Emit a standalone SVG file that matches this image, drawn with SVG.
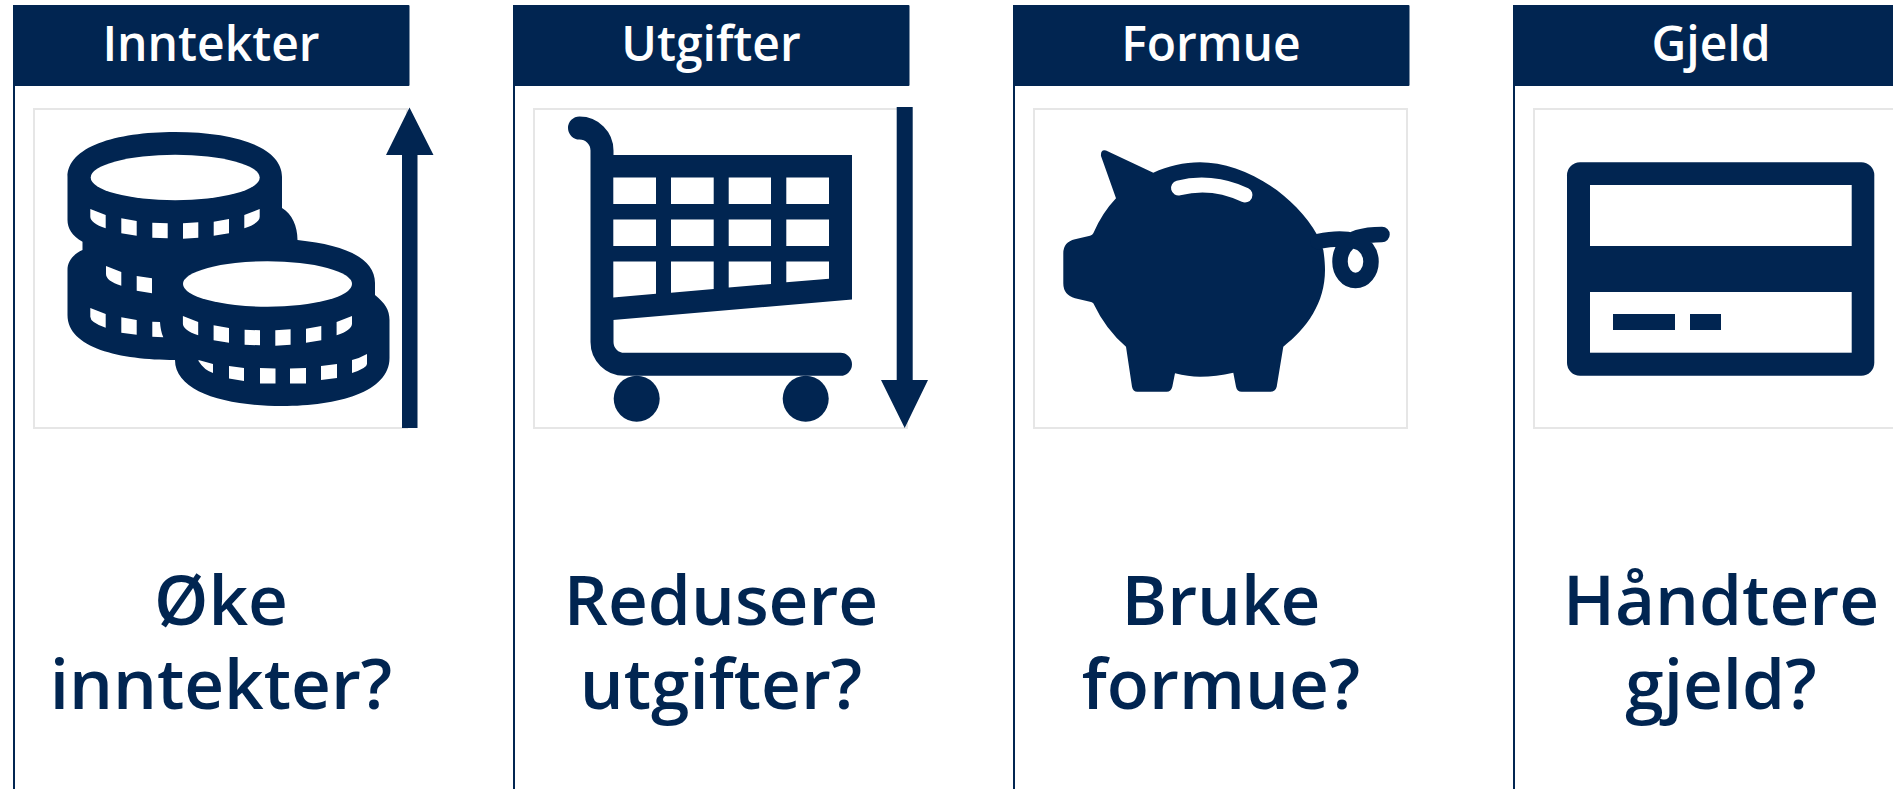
<svg xmlns="http://www.w3.org/2000/svg" width="1893" height="789" viewBox="0 0 1893 789">
<style>
.n{fill:#012551}
.w{fill:#fff}
.hd{fill:#012551}
.rule{fill:#012551}
.box{fill:#fff;stroke:#e6e6e6;stroke-width:2}
.h{font-family:"Open Sans",sans-serif;font-size:48px;font-weight:600;fill:#fff;text-anchor:middle}
.q{font-family:"Open Sans",sans-serif;font-size:69.2px;font-weight:600;fill:#012551;text-anchor:middle}
</style>
<defs>
<g id="col">
<rect class="rule" x="13" y="5" width="2" height="784"/>
<rect class="hd" x="13" y="5" width="396.5" height="81" rx="1"/>
<rect class="box" x="34" y="109" width="373" height="319"/>
</g>
</defs>
<rect width="1893" height="789" fill="#fff"/>
<g id="inntekter">
<use href="#col"/>
<text class="h" x="211" y="61">Inntekter</text>
<path class="n" d="M67.500 177C67.500 147 115 132 175 132C235 132 282 147 282 177V208C292 214 297.500 226 297.500 240C345 245 375 258 375 283V295C385 303 389.500 310 389.500 320V358C389.500 392 338 406 282 406C226 406 175 392 175 360C120 360 67.500 348 67.500 315V270C67.500 262 72 255 82.500 250V241.700C72 236 67.500 228 67.500 220Z"/>
<ellipse class="w" cx="175.200" cy="177.500" rx="84.500" ry="22.700"/>
<ellipse class="w" cx="267.500" cy="284" rx="84.500" ry="22.700"/>
<path class="w" d="M90.300 209L105.700 215V228.300Q90.300 223 90.300 216.700ZM121.300 218.300L136.700 221V235.700L121.300 233.300ZM152.300 222.700L167.700 223.300V238.300L152.300 237.700ZM183 223.300L198.300 222.300V237.700L183 238.700ZM213.700 221.700L229 219V233.300L213.700 235.700ZM244.300 215L259.700 209V216.700Q259.700 223 244.300 228.300Z"/>
<path class="w" d="M106 266L121.300 272V285.700Q106 281 106 274ZM136.700 276L152 278.300V293.300L136.700 290.700Z"/>
<path class="w" d="M90.300 308L105.700 314V327.700Q90.300 322.500 90.300 316.700ZM121.300 317.300L136.700 320V334.700L121.300 332.700ZM152.300 321.700L160 322Q160.500 331 163.300 337.300L152.300 336.700Z"/>
<path class="w" d="M182.900 316L198.200 322V335.300Q182.900 330 182.900 323.700ZM213.600 325.300L229 328V342.700L213.600 340.300ZM244.600 329.700L260 330.300V345.300L244.600 344.700ZM275.300 330.300L290.600 329.300V344.700L275.300 345.700ZM306 328.700L321.300 326V340.300L306 342.700ZM336.600 322L352 316V323.700Q352 330 336.600 335.300Z"/>
<path class="w" d="M198.500 360L213 364V373Q204 370 198.500 361ZM229 366L244 368V381L229 378.500ZM260 368L275.500 368.500V383.500H260ZM290 368.500L306 368V383.500H290ZM321 366L337 364V378L321 380ZM352 360Q360 358 367 354V364Q367 368 352 373Z"/>
<path class="n" d="M402 428V155H386L409.500 107.500L433.500 155H417.500V428Z"/>
<text class="q" x="221" y="625">Øke</text>
<text class="q" x="221" y="709">inntekter?</text>
</g>
<g id="utgifter" transform="translate(500 0)">
<use href="#col"/>
<text class="h" x="211" y="61">Utgifter</text>
<path d="M79.500 128A22.500 22.500 0 0 1 102 150.500V342A22.300 22.300 0 0 0 124.300 364.300H340.500" fill="none" stroke="#012551" stroke-width="23" stroke-linecap="round"/>
<path class="n" d="M113 155H352V299.500L113 320Z"/>
<path class="w" d="M113.300 177.500H156V204H113.300ZM171 177.500H213.700V204H171ZM228.700 177.500H271V204H228.700ZM286.300 177.500H329V204H286.300ZM113.300 219.500H156V246H113.300ZM171 219.500H213.700V246H171ZM228.700 219.500H271V246H228.700ZM286.300 219.500H329V246H286.300ZM113.300 261.500H156V293.700L113.300 297.500ZM171 261.500H213.700V289L171 292.700ZM228.700 261.500H271V284L228.700 287.500ZM286.300 261.500H329V278.700L286.300 282.300Z"/>
<circle class="n" cx="136.700" cy="398.700" r="23"/>
<circle class="n" cx="305.700" cy="398.700" r="23"/>
<path class="n" d="M396.700 107H412.700V380H428L404.700 428L381 380H396.700Z"/>
<text class="q" x="221" y="625">Redusere</text>
<text class="q" x="221" y="709">utgifter?</text>
</g>
<g id="formue" transform="translate(1000 0)">
<use href="#col"/>
<text class="h" x="211" y="61">Formue</text>
<path class="n" d="M153.300 172.700C168 166 184 162.300 200 162.300C240 162.300 292 190 317.700 235.700L323.300 250C324.500 258 325 264 325 270C325 303 307 328 283.300 346.700L276.700 386.700Q275.500 391.700 270 391.700H241.700Q237 391.700 236 386.700L233.300 372.700Q216 376.700 200 376.700Q188 376.700 175 373.300L172.300 386.700Q171 391.700 166.700 391.700H137.300Q133 391.700 132 386.700L126 346.700Q106 330 93.300 303.300Q92 301.700 90 301.700L75 298.300Q63.300 295 63.300 283.300V253.300Q63.300 242 75 239.300L90 235.700Q92.500 235 93.300 233.300Q102 213 116 198.300L101 156Q100.500 149 106 150.500Z"/>
<path d="M178.500 188C198 183 222 184 245 195" fill="none" stroke="#fff" stroke-width="15" stroke-linecap="round"/>
<path d="M318 241.500C330 239 345 238 354 241C365 243 371 252 371 261.700C371 272 364 280.500 355.500 280.500C347 280.500 340 272 340 261.700C340 250 347 241 358 237.500C366 235 374 234.500 382 234.500" fill="none" stroke="#012551" stroke-width="15.500" stroke-linecap="round"/>
<text class="q" x="221" y="625">Bruke</text>
<text class="q" x="221" y="709">formue?</text>
</g>
<g id="gjeld" transform="translate(1500 0)">
<use href="#col"/>
<text class="h" x="211" y="61">Gjeld</text>
<rect class="n" x="67" y="162.300" width="307.300" height="213.400" rx="13"/>
<rect class="w" x="90" y="185" width="261.700" height="61"/>
<rect class="w" x="90" y="292" width="261.700" height="60.700"/>
<rect class="n" x="113" y="314" width="62" height="16"/>
<rect class="n" x="190" y="314" width="31" height="16"/>
<text class="q" x="221" y="625">Håndtere</text>
<text class="q" x="221" y="709">gjeld?</text>
</g>
<g id="connectors"/>
</svg>
